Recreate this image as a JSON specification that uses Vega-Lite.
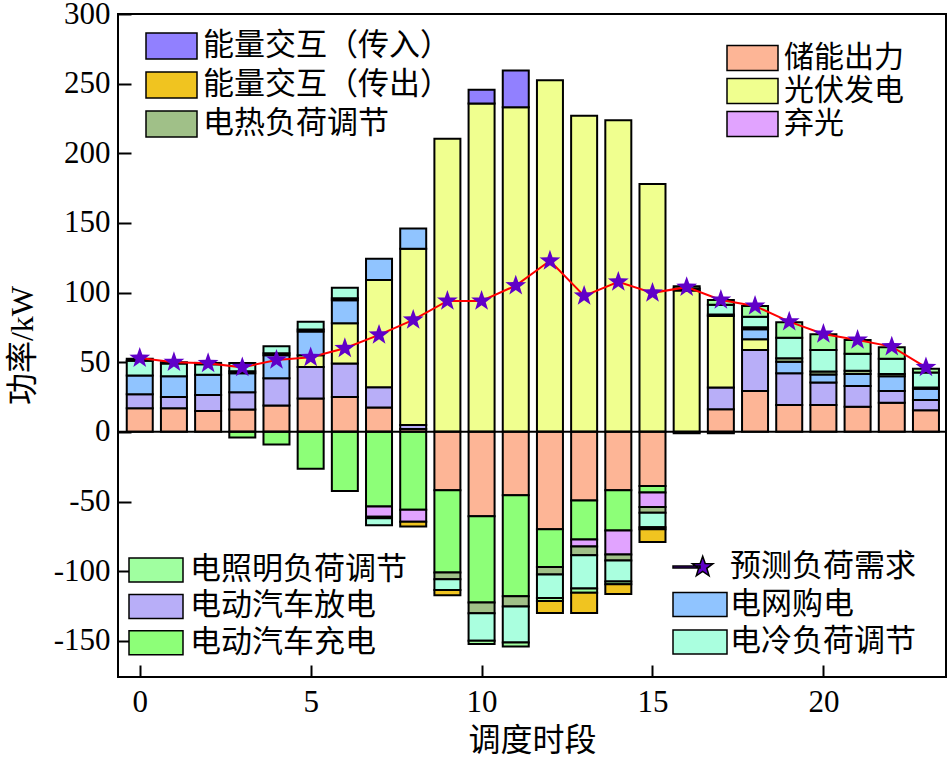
{
  "$schema": "https://vega.github.io/schema/vega-lite/v6.json",
  "width": 828,
  "height": 663,
  "autosize": {"type": "none"},
  "padding": {"left": 118, "top": 14, "right": 6, "bottom": 83},
  "background": "white",
  "config": {
    "view": {"stroke": "#000", "strokeWidth": 2},
    "axis": {"grid": false, "domain": false, "tickColor": "#000", "tickWidth": 2, "labelColor": "#000", "labelFont": "Liberation Serif", "labelFontSize": 31, "titleFont": "Liberation Serif, Noto Sans CJK SC", "titleFontSize": 32, "titleFontWeight": "normal", "titleColor": "#000", "labelFlush": false},
    "legend": {"padding": 0, "labelFont": "Noto Sans CJK SC", "labelFontSize": 31, "labelColor": "#000", "labelLimit": 500, "symbolStrokeColor": "#000", "symbolStrokeWidth": 1.5, "symbolOpacity": 1, "clipHeight": 28}
  },
  "datasets": {
    "ranks": [
      {"s": "储能出力", "rank": 1},
      {"s": "电动汽车放电", "rank": 2},
      {"s": "电动汽车充电", "rank": 3},
      {"s": "光伏发电", "rank": 4},
      {"s": "弃光", "rank": 5},
      {"s": "电网购电", "rank": 6},
      {"s": "电热负荷调节", "rank": 7},
      {"s": "电冷负荷调节", "rank": 8},
      {"s": "电照明负荷调节", "rank": 9},
      {"s": "能量交互（传入）", "rank": 10},
      {"s": "能量交互（传出）", "rank": 11}
    ],
    "load": [
      {"h": 0, "load": 53}, {"h": 1, "load": 50}, {"h": 2, "load": 49.2}, {"h": 3, "load": 46.3},
      {"h": 4, "load": 51.6}, {"h": 5, "load": 53.5}, {"h": 6, "load": 60}, {"h": 7, "load": 69.6},
      {"h": 8, "load": 80.4}, {"h": 9, "load": 94}, {"h": 10, "load": 94}, {"h": 11, "load": 105},
      {"h": 12, "load": 122.8}, {"h": 13, "load": 97.6}, {"h": 14, "load": 107.7}, {"h": 15, "load": 99.8},
      {"h": 16, "load": 103.9}, {"h": 17, "load": 94.7}, {"h": 18, "load": 90.4}, {"h": 19, "load": 79.1},
      {"h": 20, "load": 70.3}, {"h": 21, "load": 66}, {"h": 22, "load": 61.2}, {"h": 23, "load": 46.3}
    ],
    "bars": [
      {"h": 0, "s": "储能出力", "v": 17}, {"h": 0, "s": "电动汽车放电", "v": 10}, {"h": 0, "s": "电网购电", "v": 13.5}, {"h": 0, "s": "电冷负荷调节", "v": 10.5}, {"h": 0, "s": "电照明负荷调节", "v": 1.5},
      {"h": 1, "s": "储能出力", "v": 17}, {"h": 1, "s": "电动汽车放电", "v": 8}, {"h": 1, "s": "电网购电", "v": 15}, {"h": 1, "s": "电冷负荷调节", "v": 9}, {"h": 1, "s": "电照明负荷调节", "v": 1},
      {"h": 2, "s": "储能出力", "v": 15}, {"h": 2, "s": "电动汽车放电", "v": 11.5}, {"h": 2, "s": "电网购电", "v": 14.5}, {"h": 2, "s": "电冷负荷调节", "v": 7.5}, {"h": 2, "s": "电照明负荷调节", "v": 1},
      {"h": 3, "s": "储能出力", "v": 16}, {"h": 3, "s": "电动汽车放电", "v": 12.5}, {"h": 3, "s": "电网购电", "v": 13.5}, {"h": 3, "s": "电热负荷调节", "v": 1.5}, {"h": 3, "s": "电冷负荷调节", "v": 6}, {"h": 3, "s": "电动汽车充电", "v": -4},
      {"h": 4, "s": "储能出力", "v": 19}, {"h": 4, "s": "电动汽车放电", "v": 19.5}, {"h": 4, "s": "电网购电", "v": 16.5}, {"h": 4, "s": "电热负荷调节", "v": 1.5}, {"h": 4, "s": "电冷负荷调节", "v": 5}, {"h": 4, "s": "电动汽车充电", "v": -9},
      {"h": 5, "s": "储能出力", "v": 24}, {"h": 5, "s": "电动汽车放电", "v": 22.5}, {"h": 5, "s": "光伏发电", "v": 8.5}, {"h": 5, "s": "电网购电", "v": 17}, {"h": 5, "s": "电热负荷调节", "v": 1.5}, {"h": 5, "s": "电冷负荷调节", "v": 5.5}, {"h": 5, "s": "电动汽车充电", "v": -26.5},
      {"h": 6, "s": "储能出力", "v": 25}, {"h": 6, "s": "电动汽车放电", "v": 24}, {"h": 6, "s": "光伏发电", "v": 29}, {"h": 6, "s": "电网购电", "v": 16.5}, {"h": 6, "s": "电热负荷调节", "v": 1.5}, {"h": 6, "s": "电冷负荷调节", "v": 7.5}, {"h": 6, "s": "电动汽车充电", "v": -42.5},
      {"h": 7, "s": "储能出力", "v": 17.5}, {"h": 7, "s": "电动汽车放电", "v": 14.5}, {"h": 7, "s": "光伏发电", "v": 77}, {"h": 7, "s": "电网购电", "v": 15.3}, {"h": 7, "s": "电动汽车充电", "v": -53.5}, {"h": 7, "s": "弃光", "v": -7.5}, {"h": 7, "s": "电热负荷调节", "v": -1}, {"h": 7, "s": "电冷负荷调节", "v": -5},
      {"h": 8, "s": "储能出力", "v": 2}, {"h": 8, "s": "电动汽车放电", "v": 3}, {"h": 8, "s": "光伏发电", "v": 126.5}, {"h": 8, "s": "电网购电", "v": 14.5}, {"h": 8, "s": "电动汽车充电", "v": -56}, {"h": 8, "s": "弃光", "v": -8.5}, {"h": 8, "s": "能量交互（传出）", "v": -3.5},
      {"h": 9, "s": "光伏发电", "v": 210.5}, {"h": 9, "s": "储能出力", "v": -42}, {"h": 9, "s": "电动汽车充电", "v": -59}, {"h": 9, "s": "电热负荷调节", "v": -4.8}, {"h": 9, "s": "电冷负荷调节", "v": -7.7}, {"h": 9, "s": "能量交互（传出）", "v": -3.8},
      {"h": 10, "s": "光伏发电", "v": 235.7}, {"h": 10, "s": "能量交互（传入）", "v": 10}, {"h": 10, "s": "储能出力", "v": -60.5}, {"h": 10, "s": "电动汽车充电", "v": -62}, {"h": 10, "s": "电热负荷调节", "v": -7.7}, {"h": 10, "s": "电冷负荷调节", "v": -19.7}, {"h": 10, "s": "电照明负荷调节", "v": -2.4},
      {"h": 11, "s": "光伏发电", "v": 233}, {"h": 11, "s": "能量交互（传入）", "v": 26.5}, {"h": 11, "s": "储能出力", "v": -45.5}, {"h": 11, "s": "电动汽车充电", "v": -72.6}, {"h": 11, "s": "电热负荷调节", "v": -7.2}, {"h": 11, "s": "电冷负荷调节", "v": -25.9}, {"h": 11, "s": "电照明负荷调节", "v": -2.9},
      {"h": 12, "s": "光伏发电", "v": 252.5}, {"h": 12, "s": "储能出力", "v": -70}, {"h": 12, "s": "电动汽车充电", "v": -27.1}, {"h": 12, "s": "电热负荷调节", "v": -5.3}, {"h": 12, "s": "电冷负荷调节", "v": -16.8}, {"h": 12, "s": "电照明负荷调节", "v": -2.2}, {"h": 12, "s": "能量交互（传出）", "v": -8.6},
      {"h": 13, "s": "光伏发电", "v": 227}, {"h": 13, "s": "储能出力", "v": -49.2}, {"h": 13, "s": "电动汽车充电", "v": -28.1}, {"h": 13, "s": "弃光", "v": -5}, {"h": 13, "s": "电热负荷调节", "v": -6.2}, {"h": 13, "s": "电冷负荷调节", "v": -24}, {"h": 13, "s": "电照明负荷调节", "v": -3.1}, {"h": 13, "s": "能量交互（传出）", "v": -14.4},
      {"h": 14, "s": "光伏发电", "v": 223.7}, {"h": 14, "s": "储能出力", "v": -42}, {"h": 14, "s": "电动汽车充电", "v": -28.8}, {"h": 14, "s": "弃光", "v": -17.3}, {"h": 14, "s": "电热负荷调节", "v": -4.2}, {"h": 14, "s": "电冷负荷调节", "v": -15.2}, {"h": 14, "s": "电照明负荷调节", "v": -1.9}, {"h": 14, "s": "能量交互（传出）", "v": -7},
      {"h": 15, "s": "光伏发电", "v": 178}, {"h": 15, "s": "储能出力", "v": -38.8}, {"h": 15, "s": "电动汽车充电", "v": -4.8}, {"h": 15, "s": "弃光", "v": -10.4}, {"h": 15, "s": "电热负荷调节", "v": -4}, {"h": 15, "s": "电冷负荷调节", "v": -10.5}, {"h": 15, "s": "电照明负荷调节", "v": -1.5}, {"h": 15, "s": "能量交互（传出）", "v": -9},
      {"h": 16, "s": "光伏发电", "v": 101.5}, {"h": 16, "s": "电冷负荷调节", "v": 1.5}, {"h": 16, "s": "电照明负荷调节", "v": 1.5}, {"h": 16, "s": "电动汽车充电", "v": -1},
      {"h": 17, "s": "储能出力", "v": 16.3}, {"h": 17, "s": "电动汽车放电", "v": 15.6}, {"h": 17, "s": "光伏发电", "v": 51.3}, {"h": 17, "s": "电热负荷调节", "v": 1}, {"h": 17, "s": "电冷负荷调节", "v": 7}, {"h": 17, "s": "电照明负荷调节", "v": 3.5}, {"h": 17, "s": "电动汽车充电", "v": -1},
      {"h": 18, "s": "储能出力", "v": 29.3}, {"h": 18, "s": "电动汽车放电", "v": 29.5}, {"h": 18, "s": "光伏发电", "v": 7.6}, {"h": 18, "s": "电网购电", "v": 7.2}, {"h": 18, "s": "电热负荷调节", "v": 1.5}, {"h": 18, "s": "电冷负荷调节", "v": 7.6}, {"h": 18, "s": "电照明负荷调节", "v": 7.7},
      {"h": 19, "s": "储能出力", "v": 19.2}, {"h": 19, "s": "电动汽车放电", "v": 22.8}, {"h": 19, "s": "电网购电", "v": 8.4}, {"h": 19, "s": "电热负荷调节", "v": 2.4}, {"h": 19, "s": "电冷负荷调节", "v": 14.8}, {"h": 19, "s": "电照明负荷调节", "v": 11.1},
      {"h": 20, "s": "储能出力", "v": 19.2}, {"h": 20, "s": "电动汽车放电", "v": 16.3}, {"h": 20, "s": "电网购电", "v": 5.7}, {"h": 20, "s": "电热负荷调节", "v": 2.2}, {"h": 20, "s": "电冷负荷调节", "v": 15.4}, {"h": 20, "s": "电照明负荷调节", "v": 11.2},
      {"h": 21, "s": "储能出力", "v": 18}, {"h": 21, "s": "电动汽车放电", "v": 14.9}, {"h": 21, "s": "电网购电", "v": 8.6}, {"h": 21, "s": "电热负荷调节", "v": 2.4}, {"h": 21, "s": "电冷负荷调节", "v": 12.2}, {"h": 21, "s": "电照明负荷调节", "v": 9.9},
      {"h": 22, "s": "储能出力", "v": 20.9}, {"h": 22, "s": "电动汽车放电", "v": 8.4}, {"h": 22, "s": "电网购电", "v": 10.7}, {"h": 22, "s": "电热负荷调节", "v": 1.5}, {"h": 22, "s": "电冷负荷调节", "v": 11}, {"h": 22, "s": "电照明负荷调节", "v": 8.2},
      {"h": 23, "s": "储能出力", "v": 15.6}, {"h": 23, "s": "电动汽车放电", "v": 7.2}, {"h": 23, "s": "电网购电", "v": 8.1}, {"h": 23, "s": "电热负荷调节", "v": 1}, {"h": 23, "s": "电冷负荷调节", "v": 10.8}, {"h": 23, "s": "电照明负荷调节", "v": 2.6}
    ]
  },
  "layer": [
    {
      "data": {"name": "bars"},
      "transform": [{"lookup": "s", "from": {"data": {"name": "ranks"}, "key": "s", "fields": ["rank"]}}],
      "mark": {"type": "bar", "width": 26, "stroke": "#000", "strokeWidth": 2},
      "encoding": {
        "x": {"field": "h", "type": "quantitative", "title": "调度时段", "scale": {"domain": [-0.49, 23.44], "nice": false, "zero": false},
          "axis": {"values": [0, 5, 10, 15, 20], "tickSize": -12, "labelPadding": 22, "format": "d", "labelAngle": 0, "titleY": 63, "titleBaseline": "middle"}},
        "y": {"field": "v", "type": "quantitative", "stack": "zero", "title": "功率/kW", "scale": {"domain": [-176, 300], "nice": false},
          "axis": {"values": [-150, -100, -50, 0, 50, 100, 150, 200, 250, 300], "tickSize": -13, "labelPadding": 21, "labelExpr": "datum.value < 0 ? '-' + abs(datum.value) : '' + datum.value", "titleX": -96, "titleY": 331, "titleBaseline": "middle", "titleAlign": "center", "titleAngle": -90}},
        "color": {"field": "s", "type": "nominal",
          "scale": {"domain": ["储能出力", "电动汽车放电", "电动汽车充电", "光伏发电", "弃光", "电网购电", "电热负荷调节", "电冷负荷调节", "电照明负荷调节", "能量交互（传入）", "能量交互（传出）"],
            "range": ["#FDB596", "#B8AEF8", "#8DFF78", "#F0FF8F", "#E1A3FF", "#90C4FF", "#A0C088", "#AAFFDF", "#A0FFA0", "#9180FF", "#F0C420"]},
          "legend": null},
        "order": {"field": "rank", "type": "quantitative", "sort": "ascending"}
      }
    },
    {
      "data": {"values": [{"z": 0}]},
      "mark": {"type": "rule", "color": "#000", "strokeWidth": 2},
      "encoding": {"y": {"field": "z", "type": "quantitative", "title": "功率/kW"}}
    },
    {
      "data": {"name": "load"},
      "mark": {"type": "line", "color": "#FF0000", "strokeWidth": 2},
      "encoding": {
        "x": {"field": "h", "type": "quantitative", "title": "调度时段"},
        "y": {"field": "load", "type": "quantitative", "title": "功率/kW"}
      }
    },
    {
      "data": {"name": "load"},
      "mark": {"type": "point", "shape": "M0,-1L0.235,-0.324L0.951,-0.309L0.38,0.124L0.588,0.809L0,0.4L-0.588,0.809L-0.38,0.124L-0.951,-0.309L-0.235,-0.324Z", "filled": true, "color": "#6000C8", "size": 480, "opacity": 1},
      "encoding": {
        "x": {"field": "h", "type": "quantitative", "title": "调度时段"},
        "y": {"field": "load", "type": "quantitative", "title": "功率/kW"}
      }
    },
    {
      "data": {"values": []},
      "mark": {"type": "point", "filled": true, "opacity": 1},
      "encoding": {
        "fill": {"field": "s", "type": "nominal",
          "scale": {"domain": ["能量交互（传入）", "能量交互（传出）", "电热负荷调节"], "range": ["#9180FF", "#F0C420", "#A0C088"]},
          "legend": {"title": null, "orient": "none", "legendX": 27, "legendY": 18, "direction": "vertical", "symbolType": "M-1,-0.51H1V0.51H-1Z", "symbolSize": 2601, "rowPadding": 8, "labelOffset": 5, "clipHeight": 28}}
      }
    },
    {
      "data": {"values": []},
      "mark": {"type": "point", "filled": true, "opacity": 1},
      "encoding": {
        "fill": {"field": "s", "type": "nominal",
          "scale": {"domain": ["储能出力", "光伏发电", "弃光"], "range": ["#FDB596", "#F0FF8F", "#E1A3FF"]},
          "legend": {"title": null, "orient": "none", "legendX": 608, "legendY": 30, "direction": "vertical", "symbolType": "M-1,-0.49H1V0.49H-1Z", "symbolSize": 2601, "rowPadding": 3, "labelOffset": 5, "labelFontSize": 30, "clipHeight": 28}}
      }
    },
    {
      "data": {"values": []},
      "mark": {"type": "point", "filled": true, "opacity": 1},
      "encoding": {
        "fill": {"field": "s", "type": "nominal",
          "scale": {"domain": ["电照明负荷调节", "电动汽车放电", "电动汽车充电"], "range": ["#A0FFA0", "#B8AEF8", "#8DFF78"]},
          "legend": {"title": null, "orient": "none", "legendX": 10, "legendY": 542, "direction": "vertical", "symbolType": "M-1,-0.444H1V0.444H-1Z", "symbolSize": 2916, "rowPadding": 5.4, "labelOffset": 6, "clipHeight": 28}}
      }
    },
    {
      "data": {"values": []},
      "mark": {"type": "point", "filled": true, "opacity": 1, "stroke": "#000", "strokeWidth": 1.5},
      "encoding": {
        "fill": {"field": "s", "type": "nominal",
          "scale": {"domain": ["预测负荷需求", "电网购电", "电冷负荷调节"], "range": ["#6000C8", "#90C4FF", "#AAFFDF"]},
          "legend": {"title": null, "orient": "none", "legendX": 554, "legendY": 539, "direction": "vertical", "symbolSize": 2916, "rowPadding": 6.5, "labelOffset": 2, "clipHeight": 28,
            "encode": {"symbols": {"update": {"stroke": {"value": "#000"}, "strokeWidth": {"value": 1.5}}}}}},
        "shape": {"field": "s", "type": "nominal",
          "scale": {"domain": ["预测负荷需求", "电网购电", "电冷负荷调节"], "range": ["M-1,-0.04H0V0.04H-1Z M0.1,-0.4L0.194,-0.129L0.48,-0.124L0.252,0.049L0.335,0.324L0.1,0.16L-0.135,0.324L-0.052,0.049L-0.28,-0.124L0.006,-0.129Z", "M-1,-0.444H1V0.444H-1Z", "M-1,-0.444H1V0.444H-1Z"]},
          "legend": {"title": null, "orient": "none", "legendX": 554, "legendY": 539, "direction": "vertical", "symbolSize": 2916, "rowPadding": 6.5, "labelOffset": 2, "clipHeight": 28,
            "encode": {"symbols": {"update": {"stroke": {"value": "#000"}, "strokeWidth": {"value": 1.5}}}}}}
      }
    }
  ],
  "resolve": {
    "scale": {"fill": "independent", "shape": "independent"},
    "legend": {"fill": "independent", "shape": "independent"}
  }
}
